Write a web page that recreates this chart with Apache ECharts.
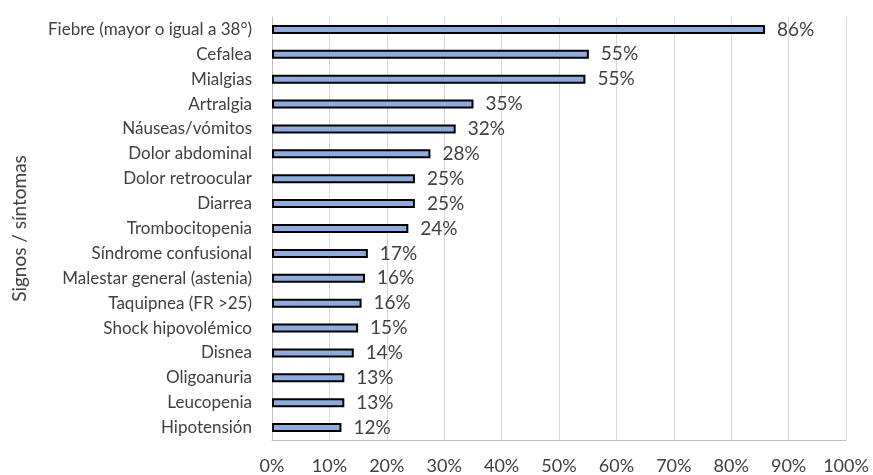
<!DOCTYPE html>
<html>
<head>
<meta charset="utf-8">
<script src="https://cdn.jsdelivr.net/npm/echarts@6/dist/echarts.min.js"></script>
<style>html,body{margin:0;padding:0;background:#fff}#c{width:873px;height:475px}</style>
</head>
<body>
<div id="c"></div>
<script>
const categories = ["Fiebre (mayor o igual a 38°)","Cefalea","Mialgias","Artralgia","Náuseas/vómitos","Dolor abdominal","Dolor retroocular","Diarrea","Trombocitopenia","Síndrome confusional","Malestar general (astenia)","Taquipnea (FR >25)","Shock hipovolémico","Disnea","Oligoanuria","Leucopenia","Hipotensión"];
const values = [0.859,0.552,0.546,0.351,0.32,0.276,0.249,0.249,0.2375,0.167,0.162,0.156,0.15,0.1425,0.126,0.126,0.121];
const xTicks = [0,0.1,0.2,0.3,0.4,0.5,0.6,0.7,0.8,0.9,1.0];
const yTitle = "Signos / síntomas";

const chart = echarts.init(document.getElementById('c'));
const font = 'Lato, "Open Sans", sans-serif';
chart.setOption({
  animation:false,
  grid:{left:272,right:27,top:17,bottom:35,containLabel:false},
  xAxis:{type:'value',min:xTicks[0],max:xTicks[xTicks.length-1],interval:0.1,
    axisLine:{show:true,lineStyle:{color:'#bfbfbf',width:1}},
    axisTick:{show:false},
    splitLine:{show:true,lineStyle:{color:'#d9d9d9',width:1}},
    axisLabel:{formatter:v=>Math.round(v*100)+'%',fontFamily:font,fontSize:18,color:'#404040',margin:17}},
  yAxis:{type:'category',data:categories,inverse:true,
    name:yTitle,nameLocation:'middle',nameRotate:90,nameGap:243,
    nameTextStyle:{fontFamily:font,fontSize:19,color:'#404040'},
    axisLine:{show:true,lineStyle:{color:'#bfbfbf',width:1}},
    axisTick:{show:false},
    axisLabel:{fontFamily:font,fontSize:17,color:'#404040',margin:20}},
  series:[{type:'bar',data:values,barWidth:9,
    itemStyle:{color:'#8faadc',borderColor:'#000',borderWidth:2},
    label:{show:true,position:'right',distance:12,formatter:p=>Math.round(p.value*100)+'%',
      fontFamily:font,fontSize:19,color:'#404040'}}]
});
</script>
</body>
</html>
